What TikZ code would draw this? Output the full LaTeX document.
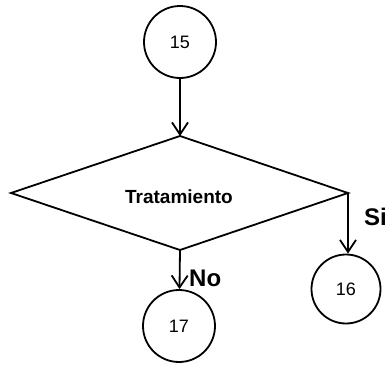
\documentclass[tikz,border=0pt]{standalone}
\usepackage{fontspec}
\setmainfont{Liberation Sans}
\usetikzlibrary{arrows.meta,shapes.geometric}
\begin{document}
\begin{tikzpicture}[x=1pt,y=-1pt,
  conn/.style={circle,draw,line width=1.8pt,minimum size=72pt,inner sep=0pt,font=\fontsize{18}{20}\selectfont},
  flow/.style={line width=1.8pt,-{Straight Barb[length=12pt,width=16pt,line width=1.8pt]}},
  lbl/.style={font=\bfseries\fontsize{24}{27}\selectfont,inner sep=0pt}]
\useasboundingbox (0,0) rectangle (392,367);
\node[conn] (n15) at (180,42) {15};
\node[conn,minimum size=69pt] (n16) at (346,289) {16};
\node[conn] (n17) at (179,326) {17};
\coordinate (dt) at (180,136);
\coordinate (dl) at (11,193);
\coordinate (dr) at (348,193);
\coordinate (db) at (180,250);
\draw[line width=1.8pt,line join=miter] (dt) -- (dr) -- (db) -- (dl) -- cycle;
\node[font=\bfseries\fontsize{19}{22}\selectfont] (dec) at (179,197) {Tratamiento};
\draw[flow] (n15) -- (dt);
\draw[flow] (dr) -- (n16.north -| dr);
\draw[flow] (db) -- (n17);
\node[lbl,anchor=west] (si) at (364,217) {Si};
\node[lbl,anchor=west] (no) at (189,278) {No};
\end{tikzpicture}
\end{document}
